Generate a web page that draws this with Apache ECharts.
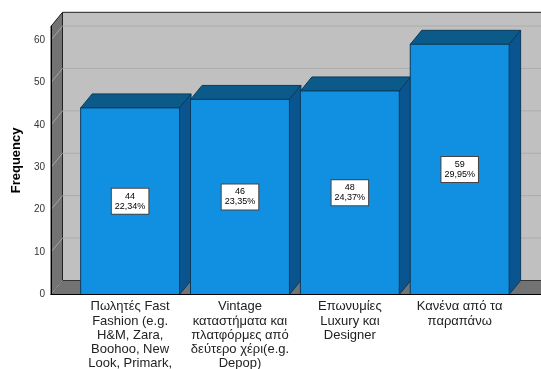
<!DOCTYPE html>
<html><head><meta charset="utf-8">
<script src="https://cdn.jsdelivr.net/npm/echarts@6/dist/echarts.min.js"></script>
<style>html,body{margin:0;padding:0;background:#fff}#c{width:541px;height:369px}</style>
</head><body><div id="c"></div>
<script>
const categories = [
  'Πωλητές Fast\nFashion (e.g.\nH&M, Zara,\nBoohoo, New\nLook, Primark,',
  'Vintage\nκαταστήματα και\nπλατφόρμες από\nδεύτερο χέρι(e.g.\nDepop)',
  'Επωνυμίες\nLuxury και\nDesigner',
  'Κανένα από τα\nπαραπάνω'
];
const frequencies = [44, 46, 48, 59];
const percents = ['22,34%', '23,35%', '24,37%', '29,95%'];
const yTicks = [0, 10, 20, 30, 40, 50, 60];

const DX = 11.5, DY = -14;
const FONT = 'Arial, "Liberation Sans", sans-serif';
const chart = echarts.init(document.getElementById('c'), null, {renderer: 'canvas'});

const barData = frequencies.map((v, i) => [i, v]);

chart.setOption({
  animation: false,
  backgroundColor: '#ffffff',
  grid: {left: 51, right: 0, top: 26.3, bottom: 74.5, containLabel: false, outerBoundsMode: 'none'},
  xAxis: {
    type: 'value', min: -0.72, max: 3.74, z: 5,
    axisLine: {show: true, onZero: false, lineStyle: {color: '#000', width: 1}},
    axisTick: {show: false},
    splitLine: {show: false},
    axisLabel: {
      customValues: [0, 1, 2, 3],
      formatter: v => categories[Math.round(v)] || '',
      fontFamily: FONT, fontSize: 13, color: '#222', lineHeight: 14.3,
      margin: 5, align: 'center', verticalAlign: 'top'
    }
  },
  yAxis: {
    type: 'value', min: 0, max: 63.25, interval: 10, z: 5,
    name: 'Frequency', nameLocation: 'middle', nameRotate: 90, nameGap: 28,
    nameTextStyle: {fontFamily: FONT, fontSize: 13, fontWeight: 'bold', color: '#000'},
    axisLine: {show: true, onZero: false, lineStyle: {color: '#000', width: 1}},
    axisTick: {show: false},
    splitLine: {show: false},
    axisLabel: {fontFamily: FONT, fontSize: 10, color: '#333', margin: 6,
      showMaxLabel: false}
  },
  series: [
    {
      type: 'custom', z: 1, silent: true, clip: false,
      data: [[0, 0]],
      renderItem(params, api) {
        const cs = params.coordSys;
        const x = cs.x, y = cs.y, w = cs.width, h = cs.height;
        const ch = [];
        ch.push({type: 'rect', shape: {x: x + DX, y: y + DY, width: w, height: h},
          style: {fill: '#c0c0c0', stroke: '#222', lineWidth: 1}});
        ch.push({type: 'polygon', shape: {points: [[x, y + h], [x + DX, y + h + DY], [x + w + DX, y + h + DY], [x + w, y + h]]},
          style: {fill: '#737373', stroke: '#333', lineWidth: 1}});
        ch.push({type: 'polygon', shape: {points: [[x, y], [x + DX, y + DY], [x + DX, y + h + DY], [x, y + h]]},
          style: {fill: '#737373', stroke: '#222', lineWidth: 1}});
        yTicks.forEach(v => {
          const yy = api.coord([-0.72, v])[1];
          if (v > 0) {
            ch.push({type: 'line', shape: {x1: x + DX, y1: yy + DY, x2: x + w + DX, y2: yy + DY},
              style: {stroke: '#acacac', lineWidth: 1}});
          }
          ch.push({type: 'line', shape: {x1: x, y1: yy, x2: x + DX, y2: yy + DY},
            style: {stroke: '#a5a5a5', lineWidth: 1}});
        });
        return {type: 'group', children: ch};
      }
    },
    {
      type: 'custom', z: 2, clip: false,
      data: barData,
      renderItem(params, api) {
        const i = api.value(0), v = api.value(1);
        const bw = api.size([1, 0])[0] * 0.9;
        const p = api.coord([i, v]), b = api.coord([i, 0]);
        const l = p[0] - bw / 2, r = p[0] + bw / 2, t = p[1], bt = b[1];
        const edge = '#0a3b5e';
        return {type: 'group', children: [
          {type: 'polygon', shape: {points: [[l, t], [l + DX, t + DY], [r + DX, t + DY], [r, t]]},
            style: {fill: '#0c5a8a', stroke: edge, lineWidth: 1}},
          {type: 'polygon', shape: {points: [[r, t], [r + DX, t + DY], [r + DX, bt + DY], [r, bt]]},
            style: {fill: '#0a5590', stroke: edge, lineWidth: 1}},
          {type: 'rect', shape: {x: l, y: t, width: bw, height: bt - t},
            style: {fill: '#1190e2', stroke: edge, lineWidth: 1}},
          {type: 'text', x: p[0], y: (t + bt) / 2, z2: 10,
            style: {text: v + '\n' + percents[params.dataIndex], fill: '#000',
              font: '9px ' + FONT, align: 'center', verticalAlign: 'middle', lineHeight: 10,
              backgroundColor: '#fff', borderColor: '#444', borderWidth: 1, padding: [3, 3, 2, 3]}}
        ]};
      }
    }
  ]
});
</script></body></html>
